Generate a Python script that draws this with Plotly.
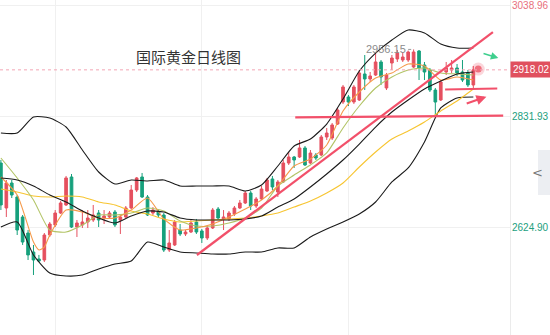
import plotly.graph_objects as go

# ---- daily OHLC (index = trading day) ----
opens = [2744.3, 2660.4, 2707.0, 2680.9, 2643.6, 2613.7, 2578.3, 2565.3, 2563.4, 2610.0,
         2628.7, 2651.0, 2666.0, 2718.2, 2624.9, 2628.7, 2634.3, 2638.0, 2651.0, 2641.7,
         2643.6, 2652.9, 2638.0, 2643.6, 2660.4, 2693.9, 2718.2, 2680.9, 2651.0, 2652.9,
         2647.3, 2582.0, 2591.4, 2619.3, 2611.9, 2615.6, 2634.3, 2617.5, 2604.4, 2623.1,
         2658.5, 2639.9, 2639.9, 2649.2, 2660.4, 2669.7, 2688.3, 2664.1, 2677.2, 2692.1,
         2714.5, 2690.2, 2708.9, 2744.3, 2755.5, 2755.5, 2772.3, 2744.3, 2759.2, 2759.2,
         2792.8, 2790.9, 2817.0, 2858.0, 2867.4, 2858.0, 2861.8, 2910.3, 2901.0, 2908.4,
         2932.7, 2884.2, 2930.8, 2938.3, 2936.4, 2936.4, 2923.3, 2953.2, 2927.1, 2917.7,
         2880.4, 2861.8, 2914.0, 2917.7, 2921.5, 2914.0, 2912.2, 2889.8]
highs = [2749.9, 2712.6, 2712.6, 2684.6, 2647.3, 2619.3, 2591.4, 2572.8, 2613.7, 2634.3,
         2656.6, 2673.4, 2720.1, 2723.8, 2638.0, 2656.6, 2656.6, 2666.0, 2656.6, 2656.6,
         2654.8, 2656.6, 2649.2, 2664.1, 2703.3, 2718.2, 2725.7, 2684.6, 2662.2, 2656.6,
         2651.0, 2619.3, 2638.0, 2630.5, 2619.3, 2638.0, 2639.9, 2621.2, 2626.8, 2660.4,
         2662.2, 2656.6, 2654.8, 2664.1, 2675.3, 2692.1, 2692.1, 2680.9, 2701.4, 2716.4,
         2720.1, 2712.6, 2749.9, 2764.8, 2757.4, 2787.2, 2776.0, 2768.5, 2762.9, 2796.5,
         2809.6, 2818.9, 2846.9, 2889.8, 2871.1, 2889.8, 2917.7, 2945.7, 2914.0, 2949.4,
         2936.4, 2912.2, 2945.7, 2955.0, 2951.3, 2954.0, 2956.15, 2955.0, 2932.7, 2921.5,
         2884.2, 2899.1, 2932.7, 2936.4, 2928.9, 2936.4, 2917.7, 2925.2]
lows = [2656.6, 2643.6, 2679.0, 2610.0, 2591.4, 2563.4, 2535.4, 2559.6, 2559.6, 2606.3,
        2624.9, 2649.2, 2664.1, 2623.1, 2606.3, 2623.1, 2623.1, 2634.3, 2624.9, 2630.5,
        2639.9, 2624.9, 2611.9, 2641.7, 2658.5, 2690.2, 2679.0, 2645.5, 2647.3, 2643.6,
        2578.3, 2578.3, 2589.5, 2608.1, 2608.1, 2613.7, 2611.9, 2595.1, 2600.7, 2621.2,
        2638.0, 2619.3, 2636.1, 2645.5, 2658.5, 2667.8, 2656.6, 2660.4, 2675.3, 2690.2,
        2693.9, 2680.9, 2707.0, 2740.6, 2735.0, 2753.6, 2738.7, 2742.4, 2749.9, 2757.4,
        2787.2, 2787.2, 2815.2, 2854.3, 2850.6, 2854.3, 2859.9, 2880.4, 2895.4, 2906.6,
        2889.8, 2880.4, 2917.7, 2932.7, 2932.7, 2932.7, 2921.5, 2899.1, 2899.1, 2876.7,
        2833.8, 2859.9, 2908.4, 2912.2, 2906.6, 2895.4, 2886.1, 2884.2]
closes = [2666.0, 2707.0, 2684.6, 2619.3, 2596.9, 2572.8, 2563.4, 2561.5, 2610.0, 2630.5,
          2651.0, 2669.7, 2716.4, 2624.9, 2632.4, 2634.3, 2641.7, 2647.3, 2638.0, 2645.5,
          2651.0, 2628.7, 2643.6, 2660.4, 2693.9, 2716.4, 2680.9, 2647.3, 2656.6, 2647.3,
          2582.0, 2595.1, 2634.3, 2611.9, 2615.6, 2632.4, 2615.6, 2604.4, 2623.1, 2656.6,
          2641.7, 2643.6, 2651.0, 2660.4, 2669.7, 2688.3, 2664.1, 2677.2, 2695.8, 2712.6,
          2699.6, 2708.9, 2744.3, 2755.5, 2749.9, 2772.3, 2740.6, 2762.9, 2753.6, 2792.8,
          2800.2, 2815.2, 2843.1, 2886.1, 2858.0, 2886.1, 2912.2, 2901.0, 2906.6, 2932.7,
          2904.7, 2908.4, 2940.1, 2949.4, 2942.0, 2951.3, 2951.3, 2921.5, 2914.0, 2880.4,
          2858.0, 2895.4, 2921.5, 2921.5, 2912.2, 2899.1, 2889.8, 2918.02]
days = list(range(len(closes)))

# ---- indicator curves, sampled every third session ----
ind_days = list(range(0, 88, 3)) + [87]
boll_upper = [2800.3, 2800.3, 2830.1, 2828.2, 2811.4, 2768.6, 2727.5, 2705.1, 2712.6, 2710.7,
              2712.6, 2701.4, 2701.4, 2701.4, 2701.4, 2692.1, 2703.3, 2738.7, 2776.0, 2789.1,
              2817.0, 2863.7, 2915.9, 2949.4, 2973.7, 2992.4, 2986.8, 2966.2, 2958.8, 2958.8]
boll_mid = [2716.3, 2712.6, 2701.4, 2684.6, 2671.6, 2654.8, 2641.7, 2632.4, 2645.5, 2654.8,
            2652.9, 2641.7, 2638.0, 2638.0, 2638.0, 2639.9, 2645.5, 2662.2, 2677.2, 2699.6,
            2723.8, 2749.9, 2779.7, 2811.4, 2839.4, 2861.8, 2882.3, 2897.2, 2910.3, 2914.0]
boll_lower = [2624.9, 2634.3, 2572.8, 2539.2, 2533.6, 2535.4, 2546.6, 2555.9, 2561.5, 2596.9,
              2587.6, 2578.3, 2576.5, 2574.6, 2574.6, 2578.3, 2578.3, 2585.8, 2585.8, 2606.3,
              2621.2, 2634.3, 2649.2, 2671.6, 2708.9, 2735.0, 2783.5, 2846.9, 2865.5, 2867.4]
ma10 = [2753.6, 2716.3, 2675.3, 2619.3, 2615.6, 2628.7, 2647.3, 2647.3, 2651.0, 2660.4,
        2654.8, 2636.1, 2626.8, 2626.8, 2632.4, 2641.7, 2660.4, 2701.4, 2721.9, 2740.6,
        2763.0, 2809.6, 2850.6, 2884.2, 2904.7, 2917.7, 2921.5, 2912.2, 2910.3, 2908.4]
ma30 = [2695.8, 2690.2, 2682.8, 2680.9, 2682.8, 2680.9, 2671.6, 2666.0, 2654.8, 2649.2,
        2639.9, 2634.3, 2636.1, 2638.0, 2639.9, 2641.7, 2645.5, 2651.0, 2662.2, 2673.4,
        2688.3, 2707.0, 2736.8, 2764.8, 2789.1, 2804.0, 2820.8, 2841.3, 2859.9, 2882.3]
ma5_days = [0, 3, 6, 7, 8, 9, 12, 15, 18, 21, 24, 27, 30, 33, 36, 39, 42, 45, 48, 51,
            54, 57, 60, 63, 66, 69, 72, 75, 78, 81, 84, 87]
ma5 = [2718.2, 2684.6, 2596.9, 2582.0, 2587.6, 2610.0, 2656.6, 2652.9, 2641.7, 2641.7,
       2656.6, 2679.0, 2640.0, 2619.3, 2623.1, 2630.5, 2643.6, 2658.5, 2675.3, 2701.4,
       2738.7, 2751.8, 2777.9, 2841.3, 2876.7, 2902.8, 2912.2, 2928.9, 2925.2, 2899.1,
       2904.7, 2899.1]

# ---- axis scale ----
price_ticks = [3038.96, 2831.93, 2624.90]
tick_colors = ["#e8707c", "#22a07e", "#22a07e"]
last_price = closes[-1]
session_high = max(highs)
grid_days = [10, 37, 64]

RED = "#e5505f"
GREEN = "#16a07c"
TREND = "#f2506a"
LABEL_FONT = "Liberation Sans, Arial"

fig = go.Figure()

fig.add_trace(go.Candlestick(
    x=days, open=opens, high=highs, low=lows, close=closes,
    increasing=dict(line=dict(color=RED, width=1), fillcolor=RED),
    decreasing=dict(line=dict(color=GREEN, width=1), fillcolor=GREEN),
    whiskerwidth=0, showlegend=False, hoverinfo="skip",
))

line_specs = [
    (ind_days, boll_upper, "#1a1a1a", 1.1),
    (ind_days, boll_lower, "#1a1a1a", 1.1),
    (ind_days, ma30, "#f7c531", 1.1),
    (ind_days, ma10, "#b2c466", 1.1),
    (ma5_days, ma5, "#f59a4a", 1.1),
    (ind_days, boll_mid, "#1a1a1a", 1.1),
]
for xs, ys, col, w in line_specs:
    fig.add_trace(go.Scatter(
        x=xs, y=ys, mode="lines",
        line=dict(color=col, width=w, shape="spline", smoothing=0.6),
        showlegend=False, hoverinfo="skip",
    ))

# last-price pulse dot
fig.add_trace(go.Scatter(
    x=[days[-1] + 0.9], y=[last_price + 1.5], mode="markers",
    marker=dict(size=13, color="rgba(240,90,110,0.25)"),
    showlegend=False, hoverinfo="skip",
))
fig.add_trace(go.Scatter(
    x=[days[-1] + 0.9], y=[last_price + 1.5], mode="markers",
    marker=dict(size=7, color="#f0707e"),
    showlegend=False, hoverinfo="skip",
))

shapes = []
# current price guide
shapes.append(dict(type="line", xref="paper", x0=0, x1=1, yref="y",
                   y0=last_price, y1=last_price,
                   line=dict(color="#f3a6b4", width=1, dash="dot")))
# analyst trend lines
shapes.append(dict(type="line", x0=36.1, y0=2572.7, x1=90.6, y1=2988.6,
                   line=dict(color=TREND, width=2.2)))
shapes.append(dict(type="line", x0=54.2, y0=2829.5, x1=92.5, y1=2832.5,
                   line=dict(color=TREND, width=2.2)))
shapes.append(dict(type="line", x0=81.8, y0=2881.4, x1=91.4, y1=2883.2,
                   line=dict(color=TREND, width=2)))
# dotted leader to the session high
shapes.append(dict(type="line", x0=75.0, x1=76.0, y0=session_high, y1=session_high,
                   line=dict(color="#9a9a9a", width=1, dash="dot")))
# side tab
shapes.append(dict(type="rect", xref="paper", yref="paper",
                   x0=538 / 510, x1=552 / 510, y0=1 - 195 / 335, y1=1 - 150 / 335,
                   fillcolor="#eceef2", line=dict(width=0)))

annotations = []
for v, c in zip(price_ticks, tick_colors):
    annotations.append(dict(x=1, xref="paper", xanchor="left", xshift=0,
                            y=v, yref="y", yanchor="middle", showarrow=False,
                            text=f"{v:.2f}",
                            font=dict(size=10, color=c, family=LABEL_FONT)))
annotations.append(dict(x=1, xref="paper", xanchor="left", xshift=0,
                        y=last_price, yref="y", yanchor="middle", showarrow=False,
                        text=f"{last_price:.2f}", bgcolor="#e0505e", borderpad=2,
                        font=dict(size=10, color="white", family=LABEL_FONT)))
annotations.append(dict(x=75.0, y=session_high, xanchor="right", yanchor="middle",
                        showarrow=False, text=f"{session_high:.2f}",
                        font=dict(size=11, color="#8c8c8c", family=LABEL_FONT)))
annotations.append(dict(x=0.37, xref="paper", y=1 - 57 / 335, yref="paper",
                        xanchor="center", yanchor="middle", showarrow=False,
                        text="国际黄金日线图",
                        font=dict(size=15, color="#333333", family="Noto Sans CJK SC")))
# direction arrows
annotations.append(dict(x=89.4, y=2868.0, ax=85.5, ay=2854.3, axref="x", ayref="y",
                        xref="x", yref="y", showarrow=True, arrowhead=2, arrowsize=1,
                        arrowwidth=2, arrowcolor=TREND, text=""))
annotations.append(dict(x=91.6, y=2940.0, ax=88.6, ay=2949.5, axref="x", ayref="y",
                        xref="x", yref="y", showarrow=True, arrowhead=2, arrowsize=1,
                        arrowwidth=1.5, arrowcolor="#3fcf8e", text=""))
annotations.append(dict(x=545 / 510, xref="paper", y=1 - 172 / 335, yref="paper",
                        showarrow=False, text="<",
                        font=dict(size=13, color="#777777", family="DejaVu Sans")))

fig.update_layout(
    width=550, height=335,
    margin=dict(l=0, r=40, t=0, b=0),
    paper_bgcolor="white", plot_bgcolor="white",
    shapes=shapes, annotations=annotations,
    xaxis=dict(range=[-0.166, 93.75], rangeslider=dict(visible=False),
               tickvals=grid_days, showticklabels=False, showgrid=True,
               gridcolor="#f0f0f0", zeroline=False, showline=False, fixedrange=True),
    yaxis=dict(range=[2423.5, 3048.3], side="right", tickvals=price_ticks,
               showticklabels=False, showgrid=True, gridcolor="#f0f0f0",
               zeroline=False, showline=True, linecolor="#ebebeb", linewidth=1,
               fixedrange=True),
)

fig.write_html("out.html", config=dict(displayModeBar=False))
